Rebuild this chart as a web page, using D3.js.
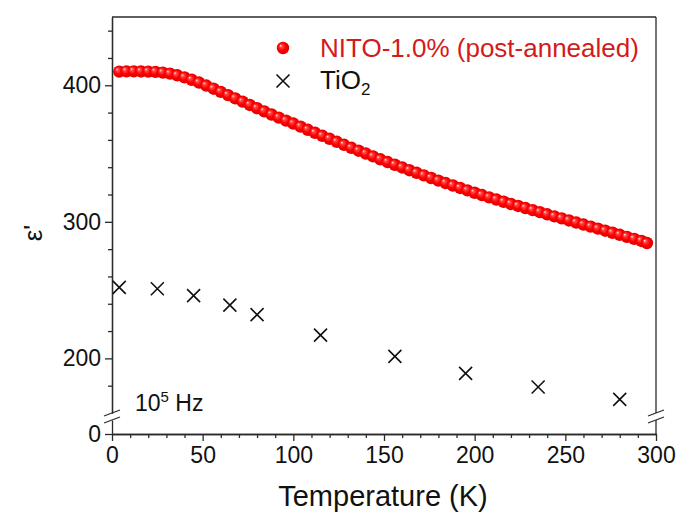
<!DOCTYPE html>
<html>
<head>
<meta charset="utf-8">
<script src="https://cdn.jsdelivr.net/npm/d3@7"></script>
<style>
  body { margin: 0; background: #fff; }
  svg { display: block; font-family: "Liberation Sans", Arial, sans-serif; }
</style>
</head>
<body>
<svg id="chart"></svg>
<script>
// NITO-1.0% (post-annealed), 10^5 Hz
const nitoT = [4, 8, 12, 16, 20, 24, 28, 32, 36, 40, 44, 48, 52, 56, 60, 64, 68, 72, 76, 80,
  84, 88, 92, 96, 100, 104, 108, 112, 116, 120, 124, 128, 132, 136, 140, 144, 148, 152, 156, 160,
  164, 168, 172, 176, 180, 184, 188, 192, 196, 200, 204, 208, 212, 216, 220, 224, 228, 232, 236, 240,
  244, 248, 252, 256, 260, 264, 268, 272, 276, 280, 284, 288, 292, 295];
const nitoEps = [410, 410.2, 410.2, 410.1, 410, 409.8, 409.3, 408.5, 407.3, 405.8, 404, 402, 399.8, 397.5, 395.2, 392.8, 390.4, 388, 385.6, 383.2,
  380.9, 378.6, 376.3, 374.1, 372, 369.7, 367.4, 365.2, 363, 360.8, 358.6, 356.4, 354.2, 352.1, 350, 347.9, 345.8, 343.8, 341.8, 339.8,
  337.8, 335.9, 334, 332.1, 330.2, 328.4, 326.6, 324.8, 323, 321.3, 319.6, 317.9, 316.3, 314.7, 313.1, 311.6, 310.1, 308.6, 307.1, 305.5,
  304, 302.5, 301, 299.5, 298, 296.5, 295, 293.5, 292, 290.5, 289, 287.5, 286, 284.5];

// TiO2
const tio2T = [4, 25, 45, 65, 80, 115, 156, 195, 235, 280];
const tio2Eps = [252, 251, 246, 239, 232, 217, 201.5, 189, 179, 170];

const xTicks = [0, 50, 100, 150, 200, 250, 300];
const yTicks = [200, 300, 400];

const width = 678, height = 517;
const plotLeft = 112, plotRight = 656, plotTop = 17, plotBottom = 434;
const breakHi = 413, breakLo = 420;

const svg = d3.select("#chart").attr("width", width).attr("height", height);

const x = d3.scaleLinear().domain([0, 300]).range([plotLeft, plotRight]);
const yHigh = d3.scaleLinear().domain([160, 450]).range([breakHi, plotTop]);
const yLow = d3.scaleLinear().domain([0, 10]).range([plotBottom, breakLo]);

const axisColor = "#2a2a2a";
const tickFont = "23px";

function styleAxis(g) {
  g.selectAll("path, line").attr("stroke", axisColor).attr("stroke-width", 1.3);
  g.selectAll("text").attr("fill", "#111").style("font-size", tickFont).style("font-family", "Liberation Sans, Arial, sans-serif");
}

// frame: top and right
svg.append("line").attr("x1", plotLeft).attr("x2", plotRight).attr("y1", plotTop).attr("y2", plotTop)
  .attr("stroke", axisColor).attr("stroke-width", 1.3);
svg.append("line").attr("x1", plotRight).attr("x2", plotRight).attr("y1", plotTop).attr("y2", breakHi)
  .attr("stroke", axisColor).attr("stroke-width", 1.3);
svg.append("line").attr("x1", plotRight).attr("x2", plotRight).attr("y1", breakLo).attr("y2", plotBottom)
  .attr("stroke", axisColor).attr("stroke-width", 1.3);

// x axis
svg.append("g").attr("transform", `translate(0,${plotBottom})`)
  .call(d3.axisBottom(x).tickValues(d3.range(0, 301, 10).filter(v => v % 50 !== 0)).tickSize(4).tickFormat("").tickSizeOuter(0))
  .call(styleAxis);
svg.append("g").attr("transform", `translate(0,${plotBottom})`)
  .call(d3.axisBottom(x).tickValues(xTicks).tickSize(7).tickPadding(6).tickSizeOuter(0))
  .call(styleAxis);

// y axis upper segment
svg.append("g").attr("transform", `translate(${plotLeft},0)`)
  .call(d3.axisLeft(yHigh).tickValues(d3.range(180, 451, 20).filter(v => v % 100 !== 0)).tickSize(4).tickFormat("").tickSizeOuter(0))
  .call(styleAxis);
svg.append("g").attr("transform", `translate(${plotLeft},0)`)
  .call(d3.axisLeft(yHigh).tickValues(yTicks).tickSize(7).tickPadding(4).tickSizeOuter(0))
  .call(styleAxis);
// y axis lower segment
svg.append("g").attr("transform", `translate(${plotLeft},0)`)
  .call(d3.axisLeft(yLow).tickValues([0]).tickSize(7).tickPadding(4).tickSizeOuter(0))
  .call(styleAxis);

// break marks
[plotLeft, plotRight].forEach(bx => {
  [breakHi, breakLo].forEach(by => {
    svg.append("line")
      .attr("x1", bx - 8).attr("y1", by + 3)
      .attr("x2", bx + 8).attr("y2", by - 3)
      .attr("stroke", axisColor).attr("stroke-width", 1.3);
  });
});

// gradient for spheres
const defs = svg.append("defs");
const grad = defs.append("radialGradient").attr("id", "ball")
  .attr("cx", "50%").attr("cy", "50%").attr("r", "55%")
  .attr("fx", "30%").attr("fy", "30%");
grad.append("stop").attr("offset", "0%").attr("stop-color", "#fff0f0");
grad.append("stop").attr("offset", "20%").attr("stop-color", "#ff4a4a");
grad.append("stop").attr("offset", "55%").attr("stop-color", "#ff0000");
grad.append("stop").attr("offset", "100%").attr("stop-color", "#d80000");

// NITO points
const nito = nitoT.map((t, i) => ({ t, e: nitoEps[i] }));
svg.append("g").selectAll("circle")
  .data(nito)
  .enter()
  .append("circle")
  .attr("cx", d => x(d.t))
  .attr("cy", d => yHigh(d.e))
  .attr("r", 6.2)
  .attr("fill", "url(#ball)");

// TiO2 crosses
const tio2 = tio2T.map((t, i) => ({ t, e: tio2Eps[i] }));
const cs = 6.5;
svg.append("g").selectAll("path")
  .data(tio2)
  .enter()
  .append("path")
  .attr("d", d => {
    const cx = x(d.t), cy = yHigh(d.e);
    return `M${cx - cs},${cy - cs}L${cx + cs},${cy + cs}M${cx - cs},${cy + cs}L${cx + cs},${cy - cs}`;
  })
  .attr("stroke", "#111")
  .attr("stroke-width", 1.6)
  .attr("fill", "none");

// legend
svg.append("circle").attr("cx", 283).attr("cy", 48).attr("r", 6.2).attr("fill", "url(#ball)");
svg.append("text").attr("x", 320).attr("y", 57)
  .attr("fill", "#d41a1a").style("font-size", "26px")
  .text("NITO-1.0% (post-annealed)");
svg.append("path")
  .attr("d", `M${283 - cs},${81 - cs}L${283 + cs},${81 + cs}M${283 - cs},${81 + cs}L${283 + cs},${81 - cs}`)
  .attr("stroke", "#111").attr("stroke-width", 1.6);
const tio2Label = svg.append("text").attr("x", 320).attr("y", 89)
  .attr("fill", "#111").style("font-size", "26px");
tio2Label.append("tspan").text("TiO");
tio2Label.append("tspan").attr("dy", 6).style("font-size", "17px").text("2");

// frequency note
const freq = svg.append("text").attr("x", 135).attr("y", 411)
  .attr("fill", "#111").style("font-size", "23px");
freq.append("tspan").text("10");
freq.append("tspan").attr("dy", -9).style("font-size", "15px").text("5");
freq.append("tspan").attr("dy", 9).text(" Hz");

// axis titles
svg.append("text").attr("x", (plotLeft + plotRight) / 2 - 1).attr("y", 506)
  .attr("text-anchor", "middle").attr("fill", "#111").style("font-size", "29px")
  .text("Temperature (K)");
svg.append("text")
  .attr("transform", "translate(42,233) rotate(-90)")
  .attr("text-anchor", "middle").attr("fill", "#111").style("font-size", "26px")
  .text("ε'");
</script>
</body>
</html>
